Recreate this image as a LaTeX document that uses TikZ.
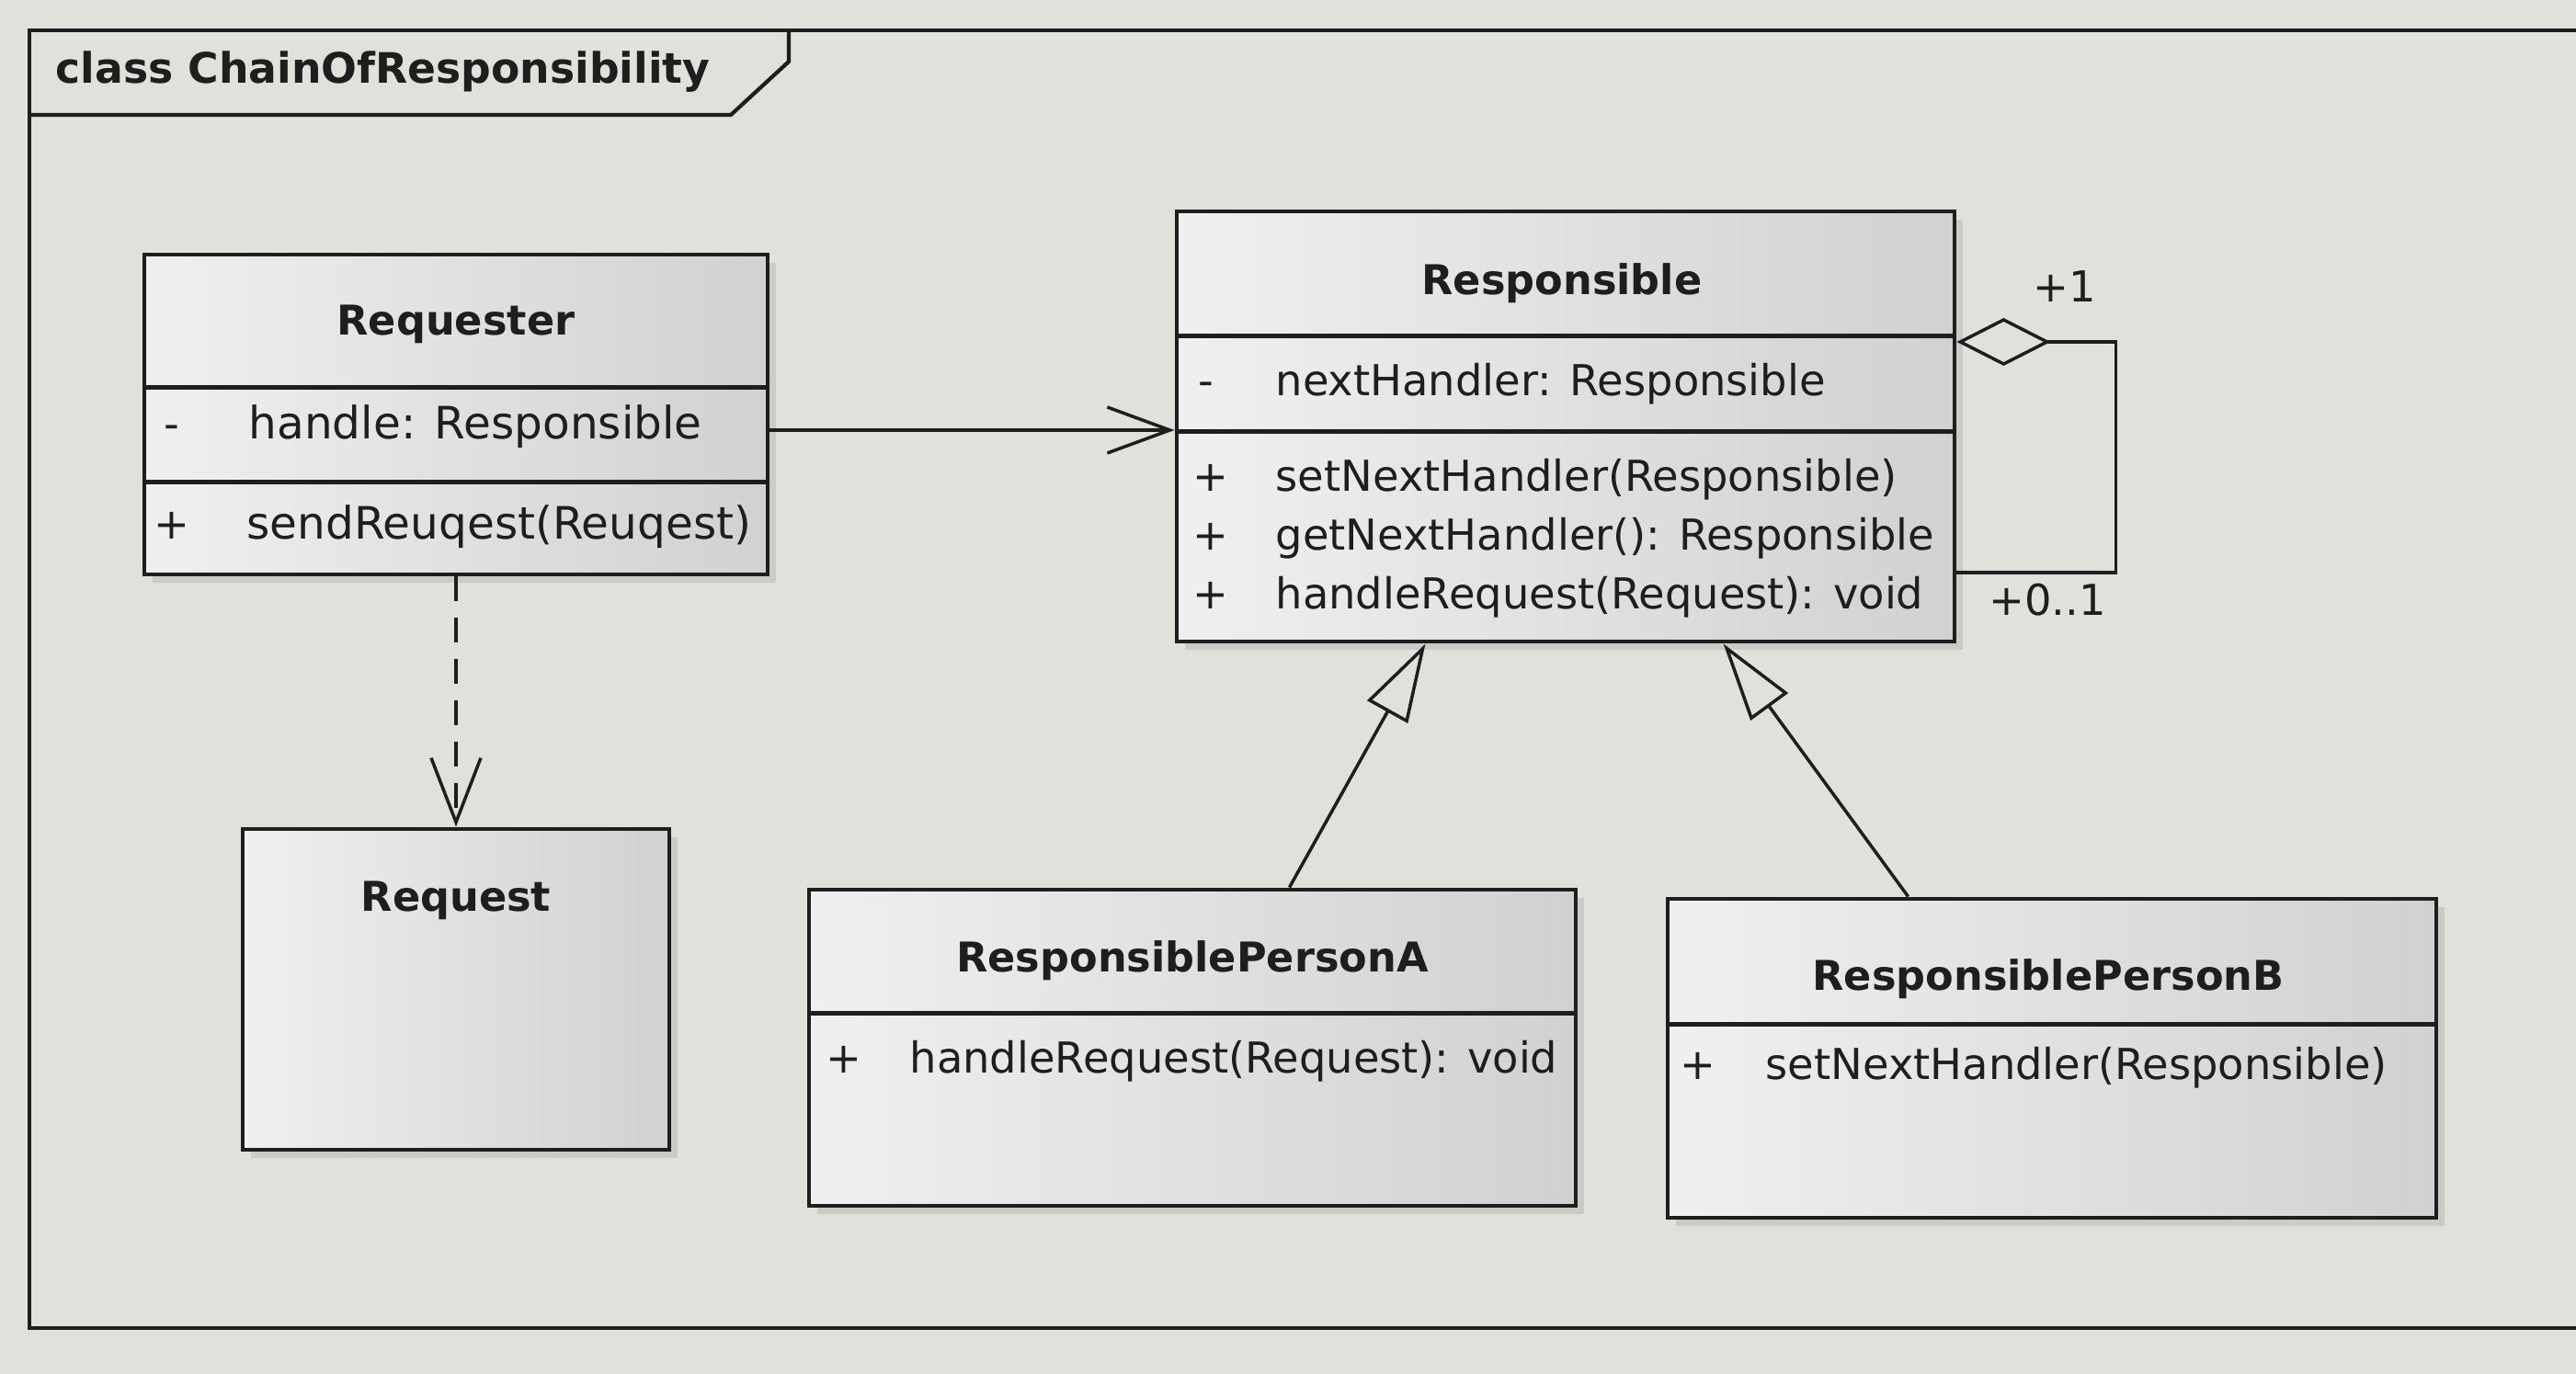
\documentclass[tikz,border=0pt]{standalone}
\usepackage{fontspec}
\setmainfont{DejaVu Sans}
\usepackage{tikz}
\usetikzlibrary{positioning, arrows.meta, shadows}
\definecolor{paper}{RGB}{226,224,219}
\definecolor{ink}{RGB}{30,30,30}

\begin{document}
\begin{tikzpicture}[
    classbox/.style={draw=ink, line width=1.4pt, inner sep=0pt,
      left color=gray!12, right color=gray!36,
      drop shadow={opacity=0.22, shadow xshift=0.09cm, shadow yshift=-0.09cm}},
    divider/.style={draw=ink, line width=1.4pt},
    title/.style={font=\fontsize{12.7}{15}\selectfont\bfseries, text=ink, inner sep=0pt},
    member/.style={font=\fontsize{13.2}{16}\selectfont, text=ink, anchor=mid west, inner sep=0pt},
    sign/.style={font=\fontsize{13.2}{16}\selectfont, text=ink, anchor=mid, inner sep=0pt},
    edge/.style={draw=ink, line width=1pt},
    frameline/.style={draw=ink, line width=1.2pt}
  ]
    % background of the page
    \fill[paper] (0,0) rectangle (28.02,14.95);
    \useasboundingbox (0,0) rectangle (28.02,14.95);

    % draw the frame and its tab
    \draw[frameline] (28.3,14.62) -- (0.32,14.62) -- (0.32,0.50) -- (28.3,0.50);
    \draw[frameline] (0.32,13.70) -- (7.95,13.70) -- (8.58,14.28) -- (8.58,14.62);
    \node[member, font=\fontsize{13}{16}\selectfont\bfseries] (framelabel) at (0.60,14.14) {class ChainOfResponsibility};

    % draw the class boxes
    \node[classbox, minimum width=6.78cm, minimum height=3.48cm] (req) at (4.96,10.44) {};
    \node[classbox, minimum width=8.46cm, minimum height=4.68cm] (resp) at (17.03,10.31) {};
    \node[classbox, minimum width=4.64cm, minimum height=3.49cm] (request) at (4.96,4.185) {};
    \node[classbox, minimum width=8.34cm, minimum height=3.44cm] (rpa) at (12.97,3.55) {};
    \node[classbox, minimum width=8.36cm, minimum height=3.47cm] (rpb) at (22.32,3.435) {};

    % draw the compartments
    \draw[divider] ([yshift=-1.47cm]req.north west) -- ([yshift=-1.47cm]req.north east);
    \draw[divider] ([yshift=-2.50cm]req.north west) -- ([yshift=-2.50cm]req.north east);
    \draw[divider] ([yshift=-1.38cm]resp.north west) -- ([yshift=-1.38cm]resp.north east);
    \draw[divider] ([yshift=-2.42cm]resp.north west) -- ([yshift=-2.42cm]resp.north east);
    \draw[divider] ([yshift=-1.37cm]rpa.north west) -- ([yshift=-1.37cm]rpa.north east);
    \draw[divider] ([yshift=-1.39cm]rpb.north west) -- ([yshift=-1.39cm]rpb.north east);

    % draw the labels of Requester
    \node[title] (reqname) at (4.96,11.42) {Requester};
    \node[sign] (reqattrsign) at (1.87,10.27) {-};
    \node[member, font=\fontsize{13.8}{16}\selectfont] (reqattr) at (2.70,10.27) {handle: Responsible};
    \node[sign] (reqopsign) at (1.87,9.18) {+};
    \node[member, font=\fontsize{13.8}{16}\selectfont] (reqop) at (2.68,9.18) {sendReuqest(Reuqest)};

    % draw the labels of Responsible
    \node[title] (respname) at (16.99,11.87) {Responsible};
    \node[sign] (respattrsign) at (13.12,10.74) {-};
    \node[member] (respattr) at (13.87,10.74) {nextHandler: Responsible};
    \node[sign] (respopsigna) at (13.17,9.70) {+};
    \node[member] (respopa) at (13.87,9.70) {setNextHandler(Responsible)};
    \node[sign] (respopsignb) at (13.17,9.06) {+};
    \node[member] (respopb) at (13.87,9.06) {getNextHandler(): Responsible};
    \node[sign] (respopsignc) at (13.17,8.42) {+};
    \node[member] (respopc) at (13.87,8.42) {handleRequest(Request): void};

    % draw the labels of Request
    \node[title] (requestname) at (4.96,5.15) {Request};

    % draw the labels of the two persons
    \node[title] (rpaname) at (12.97,4.50) {ResponsiblePersonA};
    \node[sign] (rpaopsign) at (9.18,3.37) {+};
    \node[member] (rpaop) at (9.89,3.37) {handleRequest(Request): void};
    \node[title] (rpbname) at (22.28,4.30) {ResponsiblePersonB};
    \node[sign] (rpbopsign) at (18.47,3.30) {+};
    \node[member] (rpbop) at (19.20,3.30) {setNextHandler(Responsible)};

    % draw the association and the dependency
    \draw[edge, -{Straight Barb[length=0.68cm, width=0.5cm]}] (req.east |- reqattr.mid) -- (resp.west |- reqattr.mid);
    \draw[edge, dash pattern=on 0.27cm off 0.18cm, -{Straight Barb[length=0.7cm, width=0.54cm]}] (req.south) -- (request.north);

    % draw the generalizations
    \draw[edge, -{Triangle[open, length=0.85cm, width=0.5cm]}] ([xshift=5.25cm]rpa.north west) -- ([xshift=2.73cm]resp.south west);
    \draw[edge, -{Triangle[open, length=0.85cm, width=0.5cm]}] ([xshift=2.64cm]rpb.north west) -- ([xshift=5.97cm]resp.south west);

    % draw the aggregation loop
    \draw[edge, {Diamond[open, length=1.02cm, width=0.52cm]}-] ([yshift=0.92cm]resp.east) -- ++(1.73,0) |- ([yshift=-1.59cm]resp.east);
    \node[sign] (multone) at (22.46,11.76) {+1};
    \node[sign] (multzero) at (22.27,8.35) {+0..1};

  \end{tikzpicture}
\end{document}
